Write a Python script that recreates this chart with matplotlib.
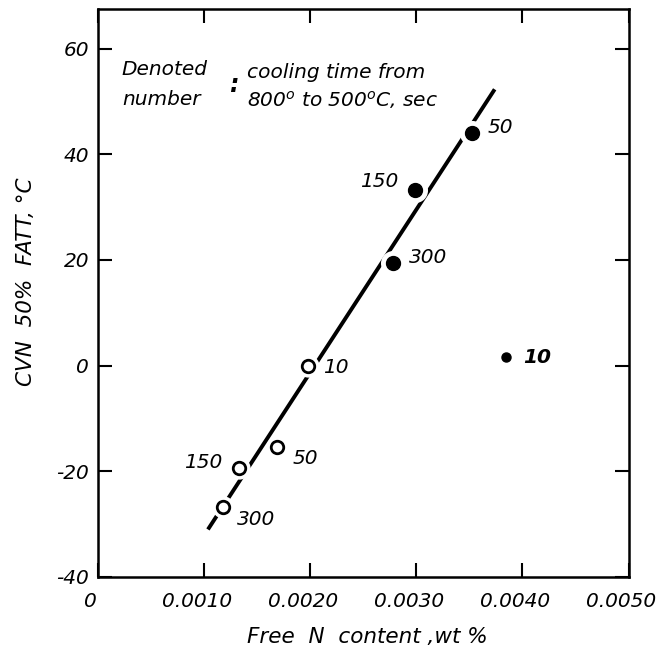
import matplotlib
matplotlib.use("Agg")
import matplotlib.pyplot as plt
import matplotlib.transforms as mtransforms

plt.rcParams["font.family"] = "DejaVu Sans"
plt.rcParams["font.style"] = "oblique"
plt.rcParams["mathtext.fontset"] = "dejavusans"
plt.rcParams["axes.unicode_minus"] = False

# free N content (wt%) vs CVN 50% FATT (deg C), labelled by cooling time (s)
open_n = [0.00118, 0.00133, 0.00169, 0.00198]
open_fatt = [-26.7, -19.4, -15.4, 0.0]
open_time = ["300", "150", "50", "10"]

filled_n = [0.00278, 0.00299, 0.00353, 0.00385]
filled_fatt = [19.5, 33.2, 44.1, 1.6]
filled_time = ["300", "150", "50", "10"]

# regression line through the data
line_n = [0.00104, 0.00374]
line_fatt = [-31.0, 52.3]

xticks = [0, 0.001, 0.002, 0.003, 0.004, 0.005]
xtick_labels = ["0", "0.0010", "0.0020", "0.0030", "0.0040", "0.0050"]
yticks = [-40, -20, 0, 20, 40, 60]

fig = plt.figure(figsize=(6.62, 6.51), dpi=100)
ax = fig.add_axes([97.5 / 662, 74 / 651, 531 / 662, 568 / 651])

ax.plot(line_n, line_fatt, color="black", lw=2.8, solid_capstyle="butt", zorder=2)

# white halos break the line around the markers
ax.plot(open_n, open_fatt, "o", ms=15, color="white", zorder=3)
ax.plot(filled_n[:3], filled_fatt[:3], "o", ms=17, color="white", zorder=3)

ax.plot(open_n, open_fatt, "o", ms=9, mfc="white", mec="black", mew=2.0, zorder=4)
ax.plot(filled_n[:3], filled_fatt[:3], "o", ms=10, color="black", zorder=4)
ax.plot(filled_n[3:], filled_fatt[3:], "o", ms=6.5, color="black", zorder=4)

# label offsets in points
open_off = [(10, -9), (-12, 4), (11, -8), (11, -1.5)]
open_ha = ["left", "right", "left", "left"]
for x, y, t, off, ha in zip(open_n, open_fatt, open_time, open_off, open_ha):
    ax.annotate(t, (x, y), xytext=off, textcoords="offset points",
                ha=ha, va="center", fontsize=14.5)

filled_off = [(12, 4), (-12, 6), (11, 4), (12, 0)]
filled_ha = ["left", "right", "left", "left"]
for i, (x, y, t, off, ha) in enumerate(zip(filled_n, filled_fatt, filled_time, filled_off, filled_ha)):
    ax.annotate(t, (x, y), xytext=off, textcoords="offset points",
                ha=ha, va="center", fontsize=14.5,
                fontweight="bold" if i == 3 else "normal")

ax.text(0.046, 0.893, "Denoted", transform=ax.transAxes, fontsize=14.5, va="center")
ax.text(0.046, 0.840, "number", transform=ax.transAxes, fontsize=14.5, va="center")
ax.text(0.248, 0.866, ":", transform=ax.transAxes, fontsize=17, va="center",
        fontweight="bold")
ax.text(0.282, 0.889, "cooling time from", transform=ax.transAxes, fontsize=14.5,
        va="center")
ax.text(0.282, 0.840, "800$^{o}$ to 500$^{o}$C, sec", transform=ax.transAxes,
        fontsize=14.5, va="center")

ax.set_xlim(0, 0.005)
ax.set_ylim(-40, 67.5)
ax.set_xticks(xticks)
ax.set_xticklabels(xtick_labels)
ax.set_yticks(yticks)
ax.tick_params(direction="in", length=10, width=1.5, top=True, right=True,
               labelsize=14.5)
ax.tick_params(axis="x", pad=11)
ax.tick_params(axis="y", pad=6)
for s in ax.spines.values():
    s.set_linewidth(1.8)

# nudge the x tick labels a little to the left so the last one fits
shift = mtransforms.ScaledTranslation(-5 / 72, 0, fig.dpi_scale_trans)
for lab in ax.get_xticklabels():
    lab.set_transform(lab.get_transform() + shift)

ax.set_xlabel("Free  N  content ,wt %", fontsize=15.5)
ax.xaxis.label.set_va("center")
ax.xaxis.set_label_coords(0.508, -0.106)
ax.set_ylabel("CVN  50%  FATT, °C", fontsize=15.5)
ax.yaxis.label.set_va("center")
ax.yaxis.set_label_coords(-0.135, 0.519)

fig.savefig("out.png", dpi=100)
